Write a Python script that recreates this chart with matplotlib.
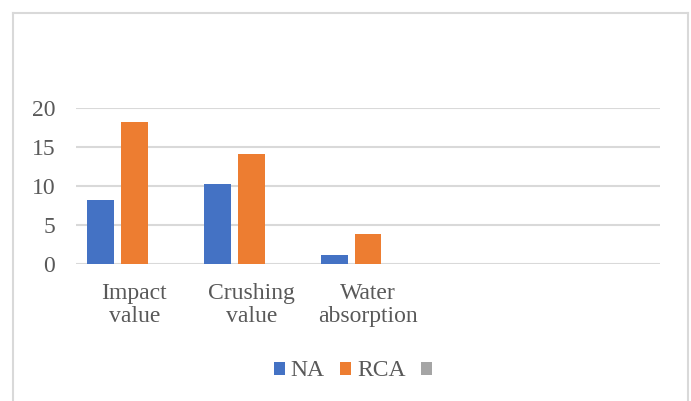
import matplotlib.pyplot as plt
from matplotlib.lines import Line2D
import numpy as np

# dados dos ensaios dos agregados
categorias = ['Impact\nvalue', 'Crushing\nvalue', 'Water\nabsorption', '', '']
na = [8.2, 10.2, 1.2, 0, 0]
rca = [18.2, 14.1, 3.9, 0, 0]
serie3 = [0, 0, 0, 0, 0]
nomes = ['NA', 'RCA', '']
cores = ['#4472c4', '#ed7d31', '#a5a5a5']
yticks = [0, 5, 10, 15, 20]

plt.rcParams['font.family'] = ['Liberation Serif', 'DejaVu Serif']
cinza_txt = '#595959'
cinza_linha = '#d9d9d9'
fs = 17

fig = plt.figure(figsize=(6.91, 4.01), dpi=100)
ax = fig.add_axes([76 / 691, 1 - 264 / 401, 584 / 691, 156 / 401])

x = np.arange(len(categorias))
largura = 0.231
passo = 0.291
barras = []
for i, (valores, cor) in enumerate(zip([na, rca, serie3], cores)):
    b = ax.bar(x + (i - 1) * passo, valores, largura, color=cor, linewidth=0, zorder=3)
    barras.append(b)

ax.set_xlim(-0.5, len(categorias) - 0.5)
ax.set_ylim(0, 20)
ax.set_yticks(yticks)
ax.set_xticks(x)
ax.set_xticklabels(categorias, linespacing=1.1)
ax.tick_params(axis='both', length=0, labelsize=fs, labelcolor=cinza_txt)
ax.tick_params(axis='y', pad=15)
ax.tick_params(axis='x', pad=14)
ax.grid(axis='y', color=cinza_linha, linewidth=1.5, zorder=0)
for s in ax.spines.values():
    s.set_visible(False)

# legenda abaixo do gráfico
fig.legend(barras, nomes, loc='center', bbox_to_anchor=(356 / 691, 1 - 371 / 401),
           ncol=3, frameon=False, fontsize=fs, labelcolor=cinza_txt,
           handlelength=0.46, handleheight=0.46, handletextpad=0.25,
           columnspacing=0.67, borderpad=0)

# moldura da área do gráfico (sem linha inferior)
topo = 1 - 12.5 / 401
for xs, ys in [([13.5, 13.5], [0, topo]), ([13.5, 688], [topo, topo]), ([688, 688], [topo, 0])]:
    fig.add_artist(Line2D([v / 691 for v in xs], ys, color=cinza_linha, linewidth=1.5))

fig.savefig('out.png', dpi=100)
